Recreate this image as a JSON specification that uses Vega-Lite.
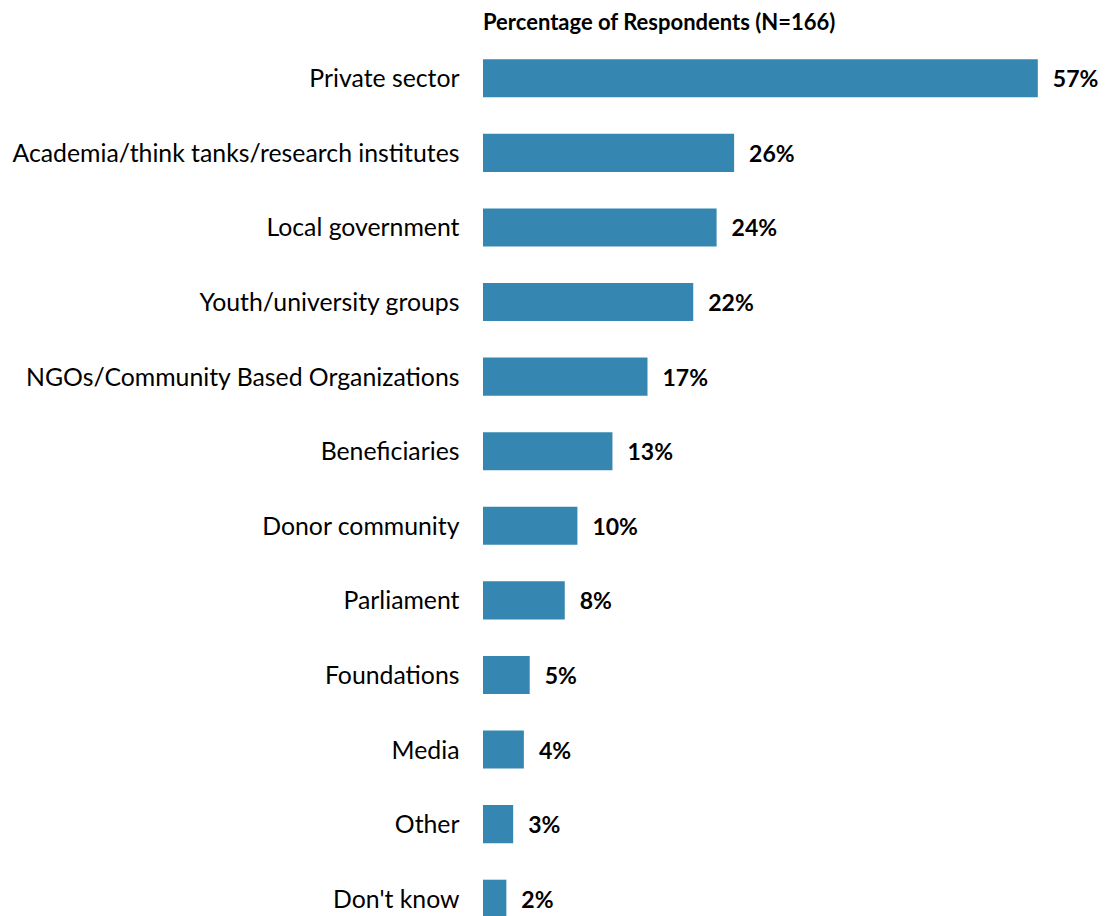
{
  "$schema": "https://vega.github.io/schema/vega-lite/v6.json",
  "autosize": "none",
  "padding": {"left": 483, "top": 41, "right": 42, "bottom": 0},
  "width": 584,
  "height": 895,
  "background": "white",
  "config": {"view": {"stroke": null}},
  "title": {
    "text": "Percentage of Respondents (N=166)",
    "anchor": "start",
    "frame": "group",
    "font": "Lato",
    "fontSize": 22,
    "fontWeight": "bold",
    "color": "#000000",
    "offset": 6
  },
  "data": {
    "values": [
      {"category": "Private sector", "value": 57.0, "label": "57%"},
      {"category": "Academia/think tanks/research institutes", "value": 25.8, "label": "26%"},
      {"category": "Local government", "value": 24.0, "label": "24%"},
      {"category": "Youth/university groups", "value": 21.6, "label": "22%"},
      {"category": "NGOs/Community Based Organizations", "value": 16.9, "label": "17%"},
      {"category": "Beneficiaries\u2002", "value": 13.3, "label": "13%"},
      {"category": "Donor community", "value": 9.7, "label": "10%"},
      {"category": "Parliament", "value": 8.4, "label": "8%"},
      {"category": "Foundations", "value": 4.8, "label": "5%"},
      {"category": "Media", "value": 4.2, "label": "4%"},
      {"category": "Other", "value": 3.1, "label": "3%"},
      {"category": "Don't know", "value": 2.4, "label": "2%"}
    ]
  },
  "encoding": {
    "y": {
      "field": "category",
      "type": "nominal",
      "sort": null,
      "scale": {"paddingInner": 0.49, "paddingOuter": 0.245},
      "axis": {
        "title": null,
        "ticks": false,
        "domain": false,
        "labelPadding": 24,
        "labelOffset": 2,
        "labelFont": "Lato",
        "labelFontSize": 24.8,
        "labelColor": "#000000",
        "labelLimit": 600
      }
    },
    "x": {
      "field": "value",
      "type": "quantitative",
      "scale": {"domain": [0, 60]},
      "axis": null
    }
  },
  "layer": [
    {"mark": {"type": "bar", "color": "#3587B1"}},
    {
      "mark": {"type": "text", "align": "left", "baseline": "middle", "dx": 15, "dy": 2, "font": "Lato", "fontSize": 23, "fontWeight": "bold", "color": "#000000"},
      "encoding": {"text": {"field": "label"}}
    }
  ]
}
